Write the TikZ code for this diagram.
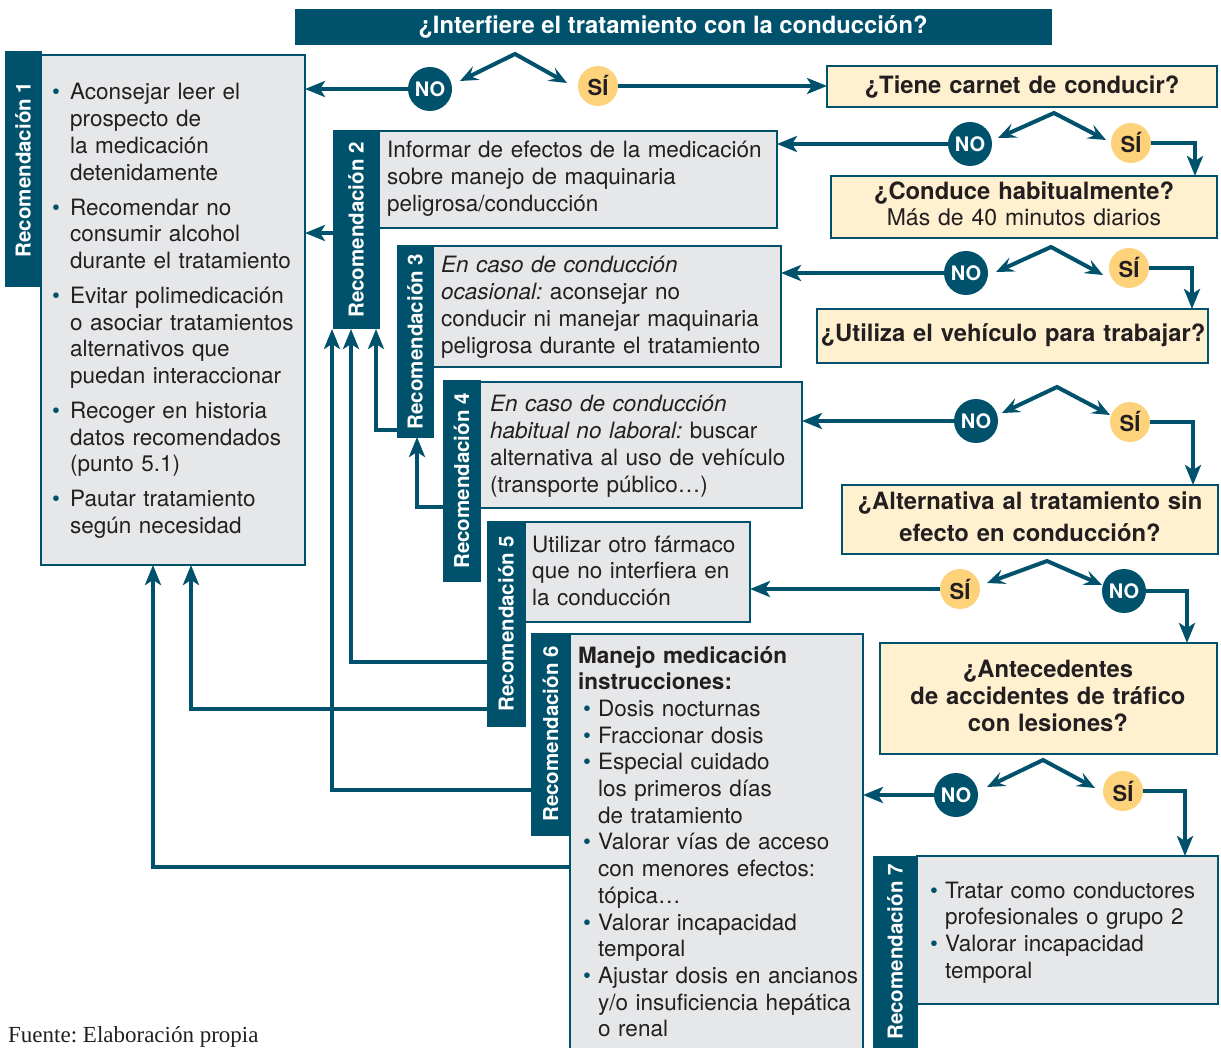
\documentclass[tikz,border=0pt]{standalone}
\usepackage{fontspec}
\setmainfont{TeX Gyre Heros}
\newfontfamily\timesf{Liberation Serif}
\usetikzlibrary{arrows.meta,calc}
\definecolor{tealc}{RGB}{0,82,108}
\definecolor{graybox}{RGB}{230,231,233}
\definecolor{creambox}{RGB}{255,240,208}
\definecolor{yelc}{RGB}{253,210,122}
\definecolor{txt}{RGB}{35,31,32}
\frenchspacing
\newcommand\bulA{\makebox[18pt][l]{\textcolor{tealc}{\textbullet}}}
\newcommand\bulB{\hspace*{5pt}\makebox[15pt][l]{\textcolor{tealc}{\textbullet}}}
\newcommand\bulC{\makebox[15pt][l]{\textcolor{tealc}{\textbullet}}}
\newcommand\nl{\newline}
\tikzset{
 tab/.style={fill=tealc, draw=tealc, line width=1pt, inner sep=0pt, outer sep=0pt, anchor=north west},
 gbox/.style={fill=graybox, draw=tealc, line width=1.4pt, inner sep=0pt, outer sep=0pt, anchor=north west},
 qbox/.style={fill=creambox, draw=tealc, line width=1.4pt, inner sep=0pt, outer sep=0pt, anchor=north west},
 nocirc/.style={circle, fill=tealc, minimum size=44pt, inner sep=0pt, text=white, font=\fontsize{20}{20}\selectfont\bfseries},
 sicirc/.style={circle, fill=yelc, minimum size=40pt, inner sep=0pt, text=txt, font=\fontsize{22}{22}\selectfont\bfseries},
 arr/.style={draw=tealc, line width=4.5pt, arrows={-Stealth[length=20pt,width=16pt,inset=5pt]}},
 splitarr/.style={draw=tealc, line width=4pt, line join=miter, arrows={Stealth[length=18pt,width=15pt,inset=7pt]-Stealth[length=18pt,width=15pt,inset=7pt]}},
 tablabel/.style={rotate=90, text=white, font=\fontsize{20.5}{20.5}\selectfont\bfseries, inner sep=0pt},
 bodytxt/.style={anchor=base west, inner sep=0pt, text=txt, text width=460pt, font=\fontsize{22.5}{26.7}\selectfont\frenchspacing},
 qtxt/.style={anchor=base, inner sep=0pt, align=center, text=txt, text width=420pt, font=\fontsize{23.8}{27}\selectfont\bfseries},
}
\begin{document}
\begin{tikzpicture}[x=1pt,y=-1pt]
\useasboundingbox (0,0) rectangle (1221,1048);
\clip (0,0) rectangle (1221,1048);
\fill[white] (0,0) rectangle (1221,1048);

% title
\node[tab, minimum width=756pt, minimum height=35pt] (title) at (295,10) {};
\node[anchor=base, inner sep=0pt, text=white, font=\fontsize{23.8}{23.8}\selectfont\bfseries] (titletxt) at (673,34) {¿Interfiere el tratamiento con la conducción?};

% recommendation boxes
\node[gbox, minimum width=264pt, minimum height=510pt] (b1) at (41,55) {};
\node[tab, minimum width=36pt, minimum height=235pt] (t1) at (5,52) {};
\node[tablabel] (l1) at (t1.center) {Recomendación 1};

\node[gbox, minimum width=398pt, minimum height=97pt] (b2) at (379,131) {};
\node[tab, minimum width=46pt, minimum height=198pt] (t2) at (333,131) {};
\node[tablabel] (l2) at (t2.center) {Recomendación 2};

\node[gbox, minimum width=348pt, minimum height=121pt] (b3) at (433,246) {};
\node[tab, minimum width=36pt, minimum height=191pt] (t3) at (397,246) {};
\node[tablabel] (l3) at (t3.center) {Recomendación 3};

\node[gbox, minimum width=322pt, minimum height=126pt] (b4) at (480,382) {};
\node[tab, minimum width=37pt, minimum height=200pt] (t4) at (443,381) {};
\node[tablabel] (l4) at (t4.center) {Recomendación 4};

\node[gbox, minimum width=225pt, minimum height=100pt] (b5) at (525,522) {};
\node[tab, minimum width=38pt, minimum height=205pt] (t5) at (487,521) {};
\node[tablabel] (l5) at (t5.center) {Recomendación 5};

\node[gbox, minimum width=293pt, minimum height=430pt] (b6) at (570,634) {};
\node[tab, minimum width=39pt, minimum height=202pt] (t6) at (531,633) {};
\node[tablabel] (l6) at (t6.center) {Recomendación 6};

\node[gbox, minimum width=301pt, minimum height=148pt] (b7) at (917,856) {};
\node[tab, minimum width=44pt, minimum height=200pt] (t7) at (873,856) {};
\node[tablabel] (l7) at (895,952) {Recomendación 7};

% texts of recommendations
\node[bodytxt] (b1t) at (52,100) {\setlength\parskip{8.3pt}%
\hangindent=18pt\hangafter=1\bulA Aconsejar leer el\nl prospecto de\nl la medicación\nl detenidamente\par
\hangindent=18pt\hangafter=1\bulA Recomendar no\nl consumir alcohol\nl durante el tratamiento\par
\hangindent=18pt\hangafter=1\bulA Evitar polimedicación\nl o asociar tratamientos\nl alternativos que\nl puedan interaccionar\par
\hangindent=18pt\hangafter=1\bulA Recoger en historia\nl datos recomendados\nl (punto 5.1)\par
\hangindent=18pt\hangafter=1\bulA Pautar tratamiento\nl según necesidad\par};

\node[bodytxt] (b2t) at (387,158) {Informar de efectos de la medicación\nl sobre manejo de maquinaria\nl peligrosa/conducción\par};

\node[bodytxt] (b3t) at (441,273) {\textit{En caso de conducción}\nl \textit{ocasional:} aconsejar no\nl conducir ni manejar maquinaria\nl peligrosa durante el tratamiento\par};

\node[bodytxt] (b4t) at (490,412) {\textit{En caso de conducción}\nl \textit{habitual no laboral:} buscar\nl alternativa al uso de vehículo\nl (transporte público…)\par};

\node[bodytxt] (b5t) at (532,552) {Utilizar otro fármaco\nl que no interfiera en\nl la conducción\par};

\node[bodytxt] (b6t) at (578,663) {{\bfseries Manejo medicación\nl instrucciones:}\par
\hangindent=20pt\hangafter=1\bulB Dosis nocturnas\par
\hangindent=20pt\hangafter=1\bulB Fraccionar dosis\par
\hangindent=20pt\hangafter=1\bulB Especial cuidado\nl los primeros días\nl de tratamiento\par
\hangindent=20pt\hangafter=1\bulB Valorar vías de acceso\nl con menores efectos:\nl tópica…\par
\hangindent=20pt\hangafter=1\bulB Valorar incapacidad\nl temporal\par
\hangindent=20pt\hangafter=1\bulB Ajustar dosis en ancianos\nl y/o insuficiencia hepática\nl o renal\par};

\node[bodytxt] (b7t) at (930,898) {\hangindent=15pt\hangafter=1\bulC Tratar como conductores\nl profesionales o grupo 2\par
\hangindent=15pt\hangafter=1\bulC Valorar incapacidad\nl temporal\par};

% question boxes
\node[qbox, minimum width=390pt, minimum height=41pt] (q1) at (827,66) {};
\node[qtxt] (q1t) at (1022,94) {¿Tiene carnet de conducir?};
\node[qbox, minimum width=386pt, minimum height=62pt] (q2) at (831,176) {};
\node[qtxt, font=\fontsize{23.8}{26}\selectfont] (q2t) at (1024,200) {\bfseries ¿Conduce habitualmente?\\\mdseries\fontsize{23}{26}\selectfont Más de 40 minutos diarios};
\node[qbox, minimum width=391pt, minimum height=54pt] (q3) at (817,309) {};
\node[qtxt] (q3t) at (1013,342) {¿Utiliza el vehículo para trabajar?};
\node[qbox, minimum width=376pt, minimum height=69pt] (q4) at (842,485) {};
\node[qtxt, font=\fontsize{23.8}{32}\selectfont\bfseries] (q4t) at (1030,509) {¿Alternativa al tratamiento sin\\efecto en conducción?};
\node[qbox, minimum width=337pt, minimum height=111pt] (q5) at (880,643) {};
\node[qtxt] (q5t) at (1048,677) {¿Antecedentes\\de accidentes de tráfico\\con lesiones?};

% decision circles
\node[nocirc] (no1) at (430,89) {NO};
\node[sicirc] (si1) at (598,86) {SÍ};
\node[nocirc] (no2) at (970,144) {NO};
\node[sicirc] (si2) at (1131,143) {SÍ};
\node[nocirc] (no3) at (966,273) {NO};
\node[sicirc] (si3) at (1129,268) {SÍ};
\node[nocirc] (no4) at (976,421) {NO};
\node[sicirc] (si4) at (1130,422) {SÍ};
\node[sicirc] (si5) at (960,589) {SÍ};
\node[nocirc] (no5) at (1124,591) {NO};
\node[nocirc] (no6) at (956,795) {NO};
\node[sicirc] (si6) at (1123,791) {SÍ};

% split points
\coordinate (p1) at (515,54);  \coordinate (p1l) at (460,81);  \coordinate (p1r) at (567,83);
\coordinate (p2) at (1054,113); \coordinate (p2l) at (998,138); \coordinate (p2r) at (1106,140);
\coordinate (p3) at (1051,247); \coordinate (p3l) at (996,272); \coordinate (p3r) at (1103,275);
\coordinate (p4) at (1057,387); \coordinate (p4l) at (1002,413); \coordinate (p4r) at (1110,415);
\coordinate (p5) at (1047,561); \coordinate (p5l) at (987,583); \coordinate (p5r) at (1102,585);
\coordinate (p6) at (1043,760); \coordinate (p6l) at (987,787); \coordinate (p6r) at (1095,788);
\foreach \i in {1,...,6} {\draw[splitarr] (p\i l) -- (p\i) -- (p\i r);}

% decision arrows
\draw[arr] (no1.west) -- (no1.west -| b1.east);
\draw[arr] (si1.east) -- (si1.east -| q1.west);
\draw[arr] (no2.west) -- (no2.west -| b2.east);
\draw[arr] (si2.east) -| ([xshift=-22pt]q2.north east);
\draw[arr] (no3.west) -- (no3.west -| b3.east);
\draw[arr] (si3.east) -| ([xshift=-16pt]q3.north east);
\draw[arr] (no4.west) -- (no4.west -| b4.east);
\draw[arr] (si4.east) -| ([xshift=-25pt]q4.north east);
\draw[arr] (si5.west) -- (si5.west -| b5.east);
\draw[arr] (no5.east) -| ([xshift=-30pt]q5.north east);
\draw[arr] (no6.west) -- (no6.west -| b6.east);
\draw[arr] (si6.east) -| ([xshift=-33pt]b7.north east);

% links between recommendations
\coordinate (c2) at (319,233);
\coordinate (c3) at (376,430);
\coordinate (c4) at (417,507);
\coordinate (c5a) at (351,662);
\coordinate (c5b) at (191,709);
\coordinate (c6a) at (332,790);
\coordinate (c6b) at (153,867);
\draw[arr] (t2.west |- c2) -- (c2 -| b1.east);
\draw[arr] (t3.west |- c3) -| (c3 |- t2.south);
\draw[arr] (t4.west |- c4) -| (c4 |- t3.south);
\draw[arr] (t5.west |- c5a) -| (c5a |- t2.south);
\draw[arr] (t5.west |- c5b) -| (c5b |- b1.south);
\draw[arr] (t6.west |- c6a) -| (c6a |- t2.south);
\draw[arr] (b6.west |- c6b) -| (c6b |- b1.south);

% source
\node[anchor=base west, inner sep=0pt, text=txt, font=\timesf\fontsize{23}{23}\selectfont] (src) at (8,1042) {Fuente: Elaboración propia};
\end{tikzpicture}
\end{document}
